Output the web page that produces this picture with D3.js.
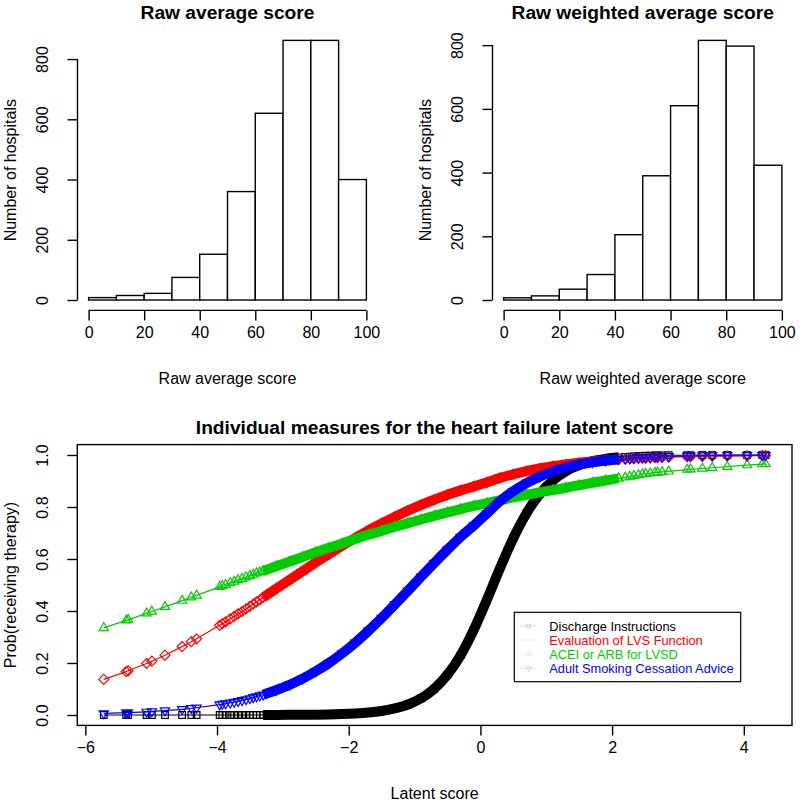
<!DOCTYPE html>
<html><head><meta charset="utf-8">
<script src="https://cdn.jsdelivr.net/npm/d3@7"></script>
<style>
body{margin:0;background:#fff}
svg{display:block}
text{font-family:"Liberation Sans",Arial,Helvetica,sans-serif;fill:#000}
</style>
</head><body>
<svg id="chart" width="800" height="806"></svg>
<script>
// ---------------- data ----------------
const binEdges = [0,10,20,30,40,50,60,70,80,90,100];
const rawAverageCounts  = [8,15,22,75,152,360,620,862,862,400];
const rawWeightedCounts = [7,13,34,80,205,390,610,815,797,423];
const histTicksX = [0,20,40,60,80,100];
const histTicksY = [0,200,400,600,800];

const latentTicks = [-6,-4,-2,0,2,4];
const probTicks = [0,0.2,0.4,0.6,0.8,1.0];

const measureNames = ["Discharge Instructions","Evaluation of LVS Function","ACEI or ARB for LVSD","Adult Smoking Cessation Advice"];

const latentScores = [
 -5.72,-5.38,-5.35,-5.07,-4.99,-4.79,-4.53,-4.39,-4.31,-3.96,-3.92,-3.87,-3.80,-3.74,-3.68,-3.62,-3.56,-3.50,-3.45,-3.40,-3.35,
 -3.3,-3.1,-2.9,-2.7,-2.5,-2.3,-2.1,-1.9,-1.7,-1.5,-1.3,-1.1,-0.9,-0.7,-0.5,-0.3,-0.1,0.1,0.3,0.5,0.7,0.9,1.1,1.3,1.5,1.7,1.9,2.1,
 2.20,2.27,2.33,2.40,2.46,2.51,2.58,2.65,2.69,2.76,2.86,3.14,3.19,3.37,3.52,3.75,4.05,4.28,4.33
];
const probDischarge = [
 0,0,0,0,0,0,0,0,0,0,0,0,0,0,0,0,0,0,0,0,0,
 0.0002,0.0003,0.0005,0.0008,0.0014,0.0022,0.0036,0.0059,0.0096,0.0156,0.0252,0.0405,0.0644,0.101,0.155,0.230,0.328,0.444,0.566,0.680,0.776,0.850,0.902,0.938,0.961,0.976,0.985,0.991,
 0.993,0.994,0.995,0.996,0.996,0.997,0.997,0.998,0.998,0.998,0.999,0.999,0.999,1.000,1.000,1.000,1.000,1.000,1.000
];
const probLVSFunction = [
 0.137,0.167,0.170,0.198,0.207,0.230,0.263,0.282,0.293,0.345,0.351,0.358,0.370,0.379,0.389,0.398,0.408,0.418,0.427,0.435,0.443,
 0.452,0.486,0.519,0.553,0.587,0.619,0.651,0.681,0.710,0.737,0.762,0.786,0.808,0.828,0.847,0.864,0.879,0.895,0.912,0.926,0.938,0.948,0.957,0.964,0.970,0.975,0.979,0.983,
 0.984,0.985,0.986,0.987,0.988,0.988,0.989,0.990,0.990,0.991,0.992,0.994,0.994,0.995,0.996,0.996,0.997,0.998,0.998
];
const probACEI = [
 0.335,0.364,0.366,0.391,0.398,0.416,0.440,0.453,0.460,0.493,0.497,0.501,0.508,0.513,0.519,0.524,0.530,0.535,0.540,0.545,0.549,
 0.554,0.572,0.590,0.608,0.626,0.643,0.660,0.677,0.693,0.708,0.724,0.738,0.752,0.766,0.779,0.792,0.804,0.815,0.826,0.837,0.847,0.856,0.865,0.874,0.884,0.893,0.902,0.910,
 0.914,0.917,0.920,0.923,0.926,0.928,0.930,0.932,0.933,0.935,0.937,0.944,0.945,0.948,0.951,0.955,0.961,0.965,0.966
];
const probSmoking = [
 0.006,0.009,0.009,0.012,0.014,0.017,0.022,0.026,0.028,0.040,0.042,0.044,0.047,0.050,0.053,0.057,0.060,0.064,0.068,0.071,0.075,
 0.078,0.096,0.116,0.140,0.168,0.200,0.237,0.278,0.324,0.373,0.425,0.478,0.532,0.585,0.636,0.685,0.729,0.776,0.823,0.861,0.892,0.917,0.937,0.952,0.964,0.972,0.979,0.984,
 0.986,0.988,0.989,0.990,0.991,0.991,0.992,0.993,0.993,0.994,0.995,0.997,0.997,0.998,0.998,0.999,0.999,0.999,0.999
];

// ---------------- styles ----------------
const colors = ["#000000","#ff0000","#00cd00","#0000ff"];
const FONT_TICK = 16, FONT_LAB = 16, FONT_TITLE = 19.2, FONT_LEG = 12.8;

const svg = d3.select("#chart");

// ---------------- histograms ----------------
function histogram(counts, region, title, xlab) {
  const maxC = d3.max(counts);
  const x = d3.scaleLinear().domain([-4, 104]).range([region.left, region.right]);
  const y = d3.scaleLinear().domain([-0.04*maxC, 1.04*maxC]).range([region.bottom, region.top]);
  const g = svg.append("g");
  const bins = counts.map((c,i)=>({x0:binEdges[i], x1:binEdges[i+1], c}));
  g.selectAll("rect").data(bins).join("rect")
    .attr("x", d=>x(d.x0)).attr("width", d=>x(d.x1)-x(d.x0))
    .attr("y", d=>y(d.c)).attr("height", d=>y(0)-y(d.c))
    .attr("fill","#fff").attr("stroke","#000").attr("stroke-width",1.4);
  // x axis
  const xa = g.append("g").attr("transform",`translate(0,${region.bottom})`)
    .call(d3.axisBottom(x).tickValues(histTicksX).tickSize(10).tickPadding(6).tickSizeOuter(0));
  xa.select(".domain").remove();
  xa.append("line").attr("x1",x(histTicksX[0])).attr("x2",x(histTicksX[histTicksX.length-1]))
    .attr("stroke","#000").attr("stroke-width",1.4);
  xa.selectAll(".tick line").attr("stroke-width",1.4);
  xa.selectAll(".tick text").attr("font-size",FONT_TICK).attr("font-family",null).attr("fill","#000").attr("dy","0.71em");
  // y axis
  const ya = g.append("g").attr("transform",`translate(${region.left},0)`)
    .call(d3.axisLeft(y).tickValues(histTicksY).tickSize(10).tickSizeOuter(0));
  ya.select(".domain").remove();
  ya.append("line").attr("y1",y(histTicksY[0])).attr("y2",y(histTicksY[histTicksY.length-1]))
    .attr("stroke","#000").attr("stroke-width",1.4);
  ya.selectAll(".tick line").attr("stroke-width",1.4);
  ya.selectAll(".tick text").attr("font-size",FONT_TICK).attr("font-family",null).attr("fill","#000")
    .attr("x",null).attr("dy",null).attr("text-anchor","middle")
    .attr("transform","translate(-29.5,0) rotate(-90)");
  // labels
  const cx = (region.left+region.right)/2;
  g.append("text").attr("x",cx).attr("y",12).attr("dominant-baseline","central").attr("text-anchor","middle")
    .attr("font-weight","bold").attr("font-size",FONT_TITLE).text(title);
  g.append("text").attr("x",cx).attr("y",region.bottom+68).attr("dominant-baseline","central").attr("text-anchor","middle")
    .attr("font-size",FONT_LAB).text(xlab);
  g.append("text").attr("transform",`translate(${region.left-67},${(region.top+region.bottom)/2}) rotate(-90)`)
    .attr("dominant-baseline","central").attr("text-anchor","middle").attr("font-size",FONT_LAB).text("Number of hospitals");
}
histogram(rawAverageCounts, {left:77.5,right:377.5,top:30,bottom:310.4}, "Raw average score", "Raw average score");
histogram(rawWeightedCounts, {left:492.5,right:793,top:30,bottom:310.4}, "Raw weighted average score", "Raw weighted average score");

// ---------------- latent score plot ----------------
const reg = {left:77.3, right:792, top:444.6, bottom:725.4};
const xr = d3.extent(latentScores), xpad = (xr[1]-xr[0])*0.04;
const xs = d3.scaleLinear().domain([xr[0]-xpad, xr[1]+xpad]).range([reg.left, reg.right]);
const ys = d3.scaleLinear().domain([-0.04, 1.04]).range([reg.bottom, reg.top]);
const g3 = svg.append("g");

const series = [probDischarge, probLVSFunction, probACEI, probSmoking].map((vals,i)=>({
  name: measureNames[i], color: colors[i], pts: latentScores.map((x,j)=>({x, y: vals[j]}))
}));

const sq = d3.symbol().type(d3.symbolSquare).size(44)();
const triUp = d3.symbol().type(d3.symbolTriangle).size(36)();
const diamond = "M0,-5L5,0L0,5L-5,0Z";
const markers = [sq, diamond, triUp, triUp];
const markerRot = [0,0,0,180];

const thin = d3.line().x(d=>xs(d.x)).y(d=>ys(d.y));
const thick = d3.line().x(d=>xs(d.x)).y(d=>ys(d.y)).curve(d3.curveMonotoneX);

series.forEach((s,i)=>{
  const gs = g3.append("g");
  gs.append("path").attr("d", thin(s.pts)).attr("fill","none").attr("stroke",s.color).attr("stroke-width",1.2);
  const dense = s.pts.filter(p=>p.x>=-3.3 && p.x<=2.1);
  gs.append("path").attr("d", thick(dense)).attr("fill","none").attr("stroke",s.color).attr("stroke-width",10);
  gs.selectAll("path.m").data(s.pts).join("path").attr("class","m")
    .attr("d", markers[i])
    .attr("transform", d=>`translate(${xs(d.x)},${ys(d.y)}) rotate(${markerRot[i]})`)
    .attr("fill","none").attr("stroke",s.color).attr("stroke-width",1.2);
});

// box
g3.append("rect").attr("x",reg.left).attr("y",reg.top).attr("width",reg.right-reg.left).attr("height",reg.bottom-reg.top)
  .attr("fill","none").attr("stroke","#000").attr("stroke-width",1.4);

// axes
const xa3 = g3.append("g").attr("transform",`translate(0,${reg.bottom})`)
  .call(d3.axisBottom(xs).tickValues(latentTicks).tickSize(10).tickPadding(6).tickFormat(d=>d3.format("")(d).replace("-","\u2212")));
xa3.select(".domain").remove();
xa3.selectAll(".tick line").attr("stroke-width",1.4);
xa3.selectAll(".tick text").attr("font-size",FONT_TICK).attr("font-family",null).attr("fill","#000").attr("dy","0.71em");
const ya3 = g3.append("g").attr("transform",`translate(${reg.left},0)`)
  .call(d3.axisLeft(ys).tickValues(probTicks).tickSize(10).tickFormat(d3.format(".1f")));
ya3.select(".domain").remove();
ya3.selectAll(".tick line").attr("stroke-width",1.4);
ya3.selectAll(".tick text").attr("font-size",FONT_TICK).attr("font-family",null).attr("fill","#000")
  .attr("x",null).attr("dy",null).attr("text-anchor","middle")
  .attr("transform","translate(-29.5,0) rotate(-90)");

const cx3 = (reg.left+reg.right)/2;
g3.append("text").attr("x",cx3).attr("y",427).attr("dominant-baseline","central").attr("text-anchor","middle")
  .attr("font-weight","bold").attr("font-size",FONT_TITLE).text("Individual measures for the heart failure latent score");
g3.append("text").attr("x",cx3).attr("y",reg.bottom+68).attr("dominant-baseline","central").attr("text-anchor","middle")
  .attr("font-size",FONT_LAB).text("Latent score");
g3.append("text").attr("transform",`translate(${reg.left-67},${(reg.top+reg.bottom)/2}) rotate(-90)`)
  .attr("dominant-baseline","central").attr("text-anchor","middle").attr("font-size",FONT_LAB).text("Prob(receiving therapy)");

// legend
const leg = g3.append("g");
leg.append("rect").attr("x",514.3).attr("y",612.3).attr("width",226.4).attr("height",69.4)
  .attr("fill","#fff").attr("stroke","#000").attr("stroke-width",1.2);
measureNames.forEach((n,i)=>{
  const yy = 626 + i*14.1;
  leg.append("line").attr("x1",520).attr("x2",537).attr("y1",yy).attr("y2",yy)
    .attr("stroke",colors[i]).attr("stroke-opacity",0.12).attr("stroke-width",1);
  leg.append("path").attr("d", i===1 ? "" : d3.symbol().type(i===0?d3.symbolSquare:d3.symbolTriangle).size(14)())
    .attr("transform",`translate(528.5,${yy}) rotate(${markerRot[i]})`)
    .attr("fill","none").attr("stroke",colors[i]).attr("stroke-opacity",0.15);
  leg.append("text").attr("x",549.3).attr("y",yy).attr("dominant-baseline","central")
    .attr("font-size",FONT_LEG).style("fill",colors[i]).text(n);
});
</script>
</body></html>
